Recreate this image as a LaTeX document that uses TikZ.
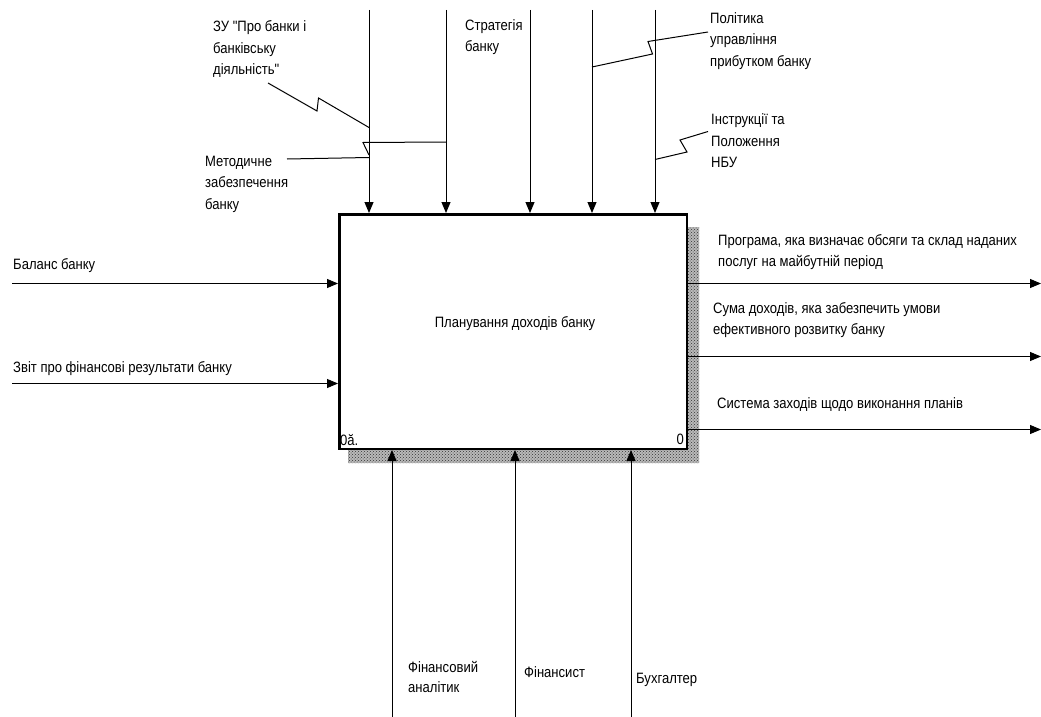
\documentclass[tikz,border=0pt]{standalone}
\usepackage{fontspec}
\setmainfont{Liberation Sans}[FakeStretch=0.87,Ligatures=TeXOff]
\usetikzlibrary{arrows.meta,patterns}

\begin{document}
\begin{tikzpicture}[x=1pt,y=-1pt,
lbl/.style={inner sep=0pt,align=left,anchor=north west,font=\fontsize{15}{21.5}\selectfont},
lblone/.style={inner sep=0pt,anchor=base west,font=\fontsize{15}{21.5}\selectfont},
func/.style={draw,line width=2.5pt,minimum width=347.5pt,minimum height=234.5pt,inner sep=0pt}
]

\tikzstyle{arrowline} = [-{Triangle[length=11pt,width=9pt]},line width=1pt]
\tikzstyle{plain} = [-,line width=1pt]

\useasboundingbox (0,0) rectangle (1041,717);

% shadow and box
\fill[gray!55] (688,227) rectangle (699,463) (348,450) rectangle (699,463);
\fill[pattern=crosshatch dots,pattern color=black!80] (688,227) rectangle (699,463) (348,450) rectangle (699,463);
  \node (box)   [func,fill=white] at (513,331.5) {};
  \node (title) [lblone,anchor=base] at (515,327) {Планування доходів банку};
  \node (num)   [lblone] at (340,445) {0ă.};
  \node (nr)    [lblone,anchor=base east] at (684,444) {0};

% labels
  \node (zu)    [lbl] at (213,20.5)  {ЗУ "Про банки і\\банківську\\діяльність"};
  \node (strat) [lbl] at (465,19)    {Стратегія\\банку};
  \node (polit) [lbl] at (710,12)    {Політика\\управління\\прибутком банку};
  \node (instr) [lbl] at (711,113.5) {Інструкції та\\Положення\\НБУ};
  \node (metod) [lbl] at (205,155.5) {Методичне\\забезпечення\\банку};
  \node (bal)   [lblone] at (13,269)  {Баланс банку};
  \node (zvit)  [lblone] at (13,372)  {Звіт про фінансові результати банку};
  \node (prog)  [lbl,font=\fontsize{15}{20.5}\selectfont] at (718,234.5) {Програма, яка визначає обсяги та склад наданих\\послуг на майбутній період};
  \node (suma)  [lbl,font=\fontsize{15}{20.5}\selectfont] at (713,302.5) {Сума доходів, яка забезпечить умови\\ефективного розвитку банку};
  \node (syst)  [lblone] at (717,408) {Система заходів щодо виконання планів};
  \node (anal)  [lbl,font=\fontsize{15}{20}\selectfont] at (408,661.5) {Фінансовий\\аналітик};
  \node (fin)   [lblone] at (524,677) {Фінансист};
  \node (buh)   [lblone] at (636,683) {Бухгалтер};

% free ends
\coordinate (c1) at (369,10);
\coordinate (c2) at (446,10);
\coordinate (c3) at (530,10);
\coordinate (c4) at (592,10);
\coordinate (c5) at (655,10);
\coordinate (i1) at (12,283.5);
\coordinate (i2) at (12,383.5);
\coordinate (o1) at (1041,283.5);
\coordinate (o2) at (1041,356.5);
\coordinate (o3) at (1041,429.5);
\coordinate (m1) at (392,717);
\coordinate (m2) at (515,717);
\coordinate (m3) at (631,717);

% controls
\path[arrowline] (c1) edge (c1 |- box.north);
\path[arrowline] (c2) edge (c2 |- box.north);
\path[arrowline] (c3) edge (c3 |- box.north);
\path[arrowline] (c4) edge (c4 |- box.north);
\path[arrowline] (c5) edge (c5 |- box.north);

% inputs and outputs
\path[arrowline] (i1) edge (box.west |- i1);
\path[arrowline] (i2) edge (box.west |- i2);
\path[arrowline] (box.east |- o1) edge (o1);
\path[arrowline] (box.east |- o2) edge (o2);
\path[arrowline] (box.east |- o3) edge (o3);

% mechanisms
\path[arrowline] (m1) edge (m1 |- box.south);
\path[arrowline] (m2) edge (m2 |- box.south);
\path[arrowline] (m3) edge (m3 |- box.south);

% squiggles and branches
\draw[plain] (268,83) -- (317,111) -- (318.5,98) -- (369,127.5);
\draw[plain] (446,142) -- (363,142.5) -- (369,155);
\draw[plain] (287,159) -- (369,157.5);
\draw[plain] (708,32) -- (648,41.5) -- (652.5,54) -- (592,67);
\draw[plain] (708,131.5) -- (680,140) -- (687,152) -- (655,159.5);

\end{tikzpicture}
\end{document}
